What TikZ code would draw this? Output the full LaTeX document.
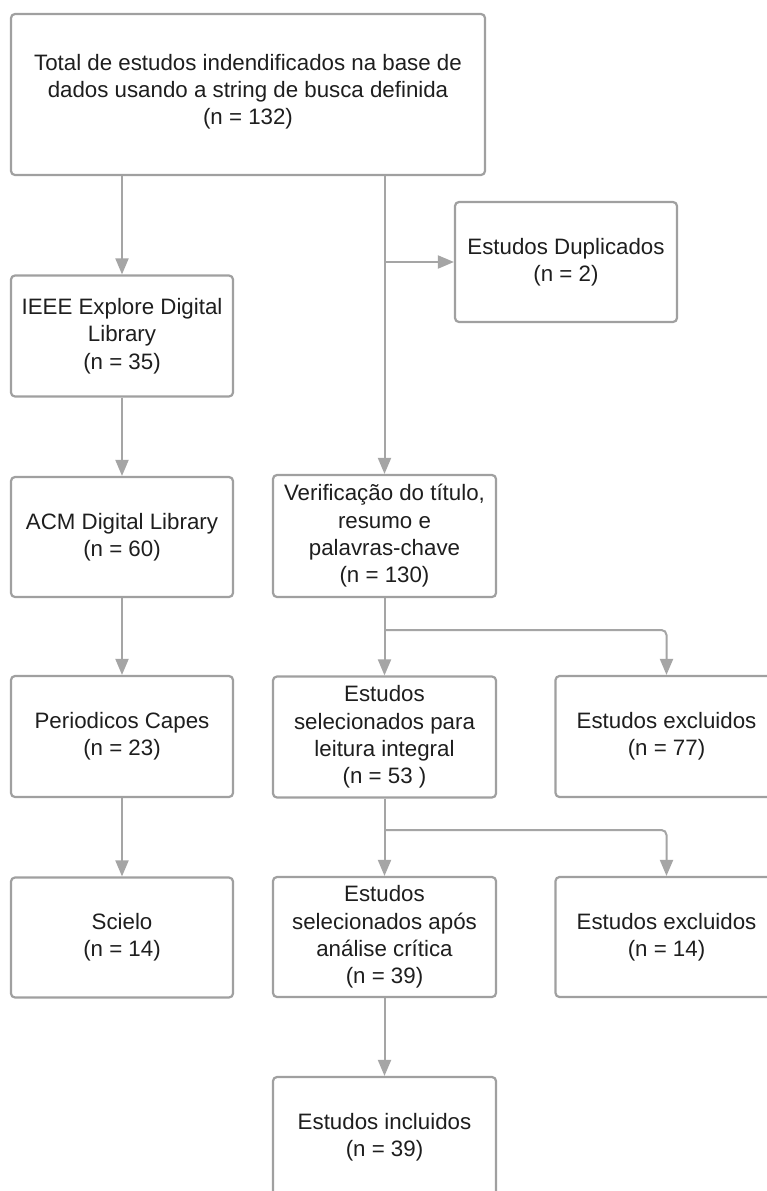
\documentclass[tikz,border=0pt]{standalone}
\usepackage{fontspec}
\setmainfont{Liberation Sans}
\usetikzlibrary{arrows.meta,calc}
\definecolor{linegray}{RGB}{165,165,165}
\definecolor{boxgray}{RGB}{160,160,160}
\definecolor{txt}{RGB}{30,30,30}
\begin{document}
\begin{tikzpicture}[x=1pt,y=1pt,
  box/.style={draw=boxgray, line width=2.2pt, rounded corners=4pt, fill=white,
    minimum width=222pt, minimum height=121pt, inner sep=0pt, align=center,
    text=txt, font=\fontsize{22.3}{27.3}\selectfont},
  arr/.style={draw=linegray, line width=2pt, -{Triangle[length=16pt,width=13pt]}},
  ln/.style={draw=linegray, line width=2pt}]
\clip (0,0) rectangle (767,-1191);
\fill[white] (0,0) rectangle (767,-1191);

\node[box, minimum width=474pt, minimum height=161pt] (top) at (248,-94.5) {Total de estudos indendificados na base de\\dados usando a string de busca definida\\(n = 132)\\[-17pt]};
\node[box, minimum height=120pt] (dup) at (566,-262) {Estudos Duplicados\\(n = 2)};
\node[box] (ieee) at (122,-336) {IEEE Explore Digital\\Library\\(n = 35)};
\node[box, minimum height=120pt] (acm) at (122,-537) {ACM Digital Library\\(n = 60)};
\node[box, minimum width=223pt, minimum height=122pt] (verif) at (384.5,-536) {Verificação do título,\\resumo e\\palavras-chave\\(n = 130)};
\node[box] (per) at (122,-736.5) {Periodicos Capes\\(n = 23)};
\node[box, minimum width=223pt] (sel) at (384.5,-737) {Estudos\\selecionados para\\leitura integral\\(n = 53 )};
\node[box] (exc1) at (666.5,-736.5) {Estudos excluidos\\(n = 77)};
\node[box, minimum height=120pt] (sci) at (122,-937.5) {Scielo\\(n = 14)};
\node[box, minimum width=223pt, minimum height=120pt] (sel2) at (384.5,-937) {Estudos\\selecionados após\\análise crítica\\(n = 39)};
\node[box, minimum height=120pt] (exc2) at (666.5,-937) {Estudos excluidos\\(n = 14)};
\node[box, minimum width=223pt, minimum height=120pt] (incl) at (384.5,-1137) {Estudos incluidos\\(n = 39)};

\coordinate (bd) at (verif.north |- dup.west);
\coordinate (b1) at (384.5,-630);
\coordinate (b2) at (384.5,-830);

\draw[arr] (top.south -| ieee.north) -- (ieee.north);
\draw[arr] (ieee.south) -- (acm.north);
\draw[arr] (acm.south) -- (per.north);
\draw[arr] (per.south) -- (sci.north);
\draw[arr] (top.south -| verif.north) -- (verif.north);
\draw[arr] (bd) -- (dup.west);
\draw[arr] (verif.south) -- (sel.north);
\draw[arr, rounded corners=5pt] (b1) -| (exc1.north);
\draw[arr] (sel.south) -- (sel2.north);
\draw[arr, rounded corners=5pt] (b2) -| (exc2.north);
\draw[arr] (sel2.south) -- (incl.north);
\end{tikzpicture}
\end{document}
